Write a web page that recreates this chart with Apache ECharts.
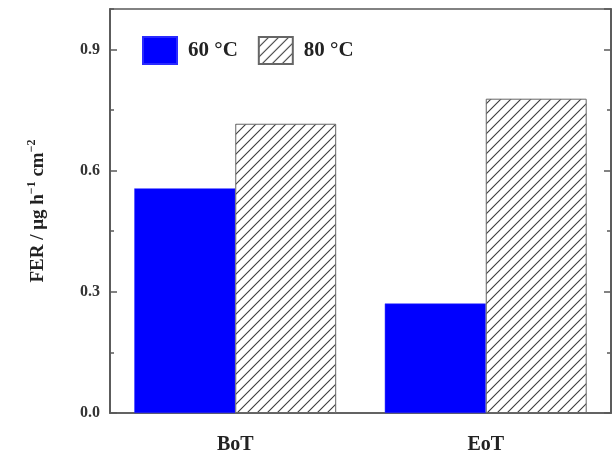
<!DOCTYPE html>
<html><head><meta charset="utf-8">
<script src="https://cdn.jsdelivr.net/npm/echarts@6/dist/echarts.min.js"></script>
<style>html,body{margin:0;padding:0;background:#fff}#c{width:612px;height:458px}</style>
</head><body><div id="c"></div>
<script>
var categories = ['BoT', 'EoT'];
var seriesNames = ['60 °C', '80 °C'];
var values60 = [0.556, 0.271];
var values80 = [0.716, 0.778];
var yMajorTicks = [0, 0.3, 0.6, 0.9];

var FONT = '"Liberation Serif", "DejaVu Serif", serif';
var AX = '#5a5a5a';

function hatch() {
  var s = 10, cv = document.createElement('canvas');
  cv.width = s; cv.height = s;
  var g = cv.getContext('2d');
  g.fillStyle = '#fff'; g.fillRect(0, 0, s, s);
  g.strokeStyle = '#3c3c3c'; g.lineWidth = 1.1;
  g.beginPath();
  g.moveTo(-1, s + 1); g.lineTo(s + 1, -1);
  g.moveTo(-1, 1); g.lineTo(1, -1);
  g.moveTo(s - 1, s + 1); g.lineTo(s + 1, s - 1);
  g.stroke();
  return cv;
}

var chart = echarts.init(document.getElementById('c'), null, {renderer: 'canvas'});
function yAx(pos, interval, len, labels, name) {
  var a = {
    type: 'value', position: pos, min: 0, max: 1.0, interval: interval,
    axisLine: {show: true, lineStyle: {color: AX, width: 1.5}},
    axisTick: {show: true, inside: true, length: len, lineStyle: {color: AX, width: 1.5}},
    splitLine: {show: false},
    axisLabel: {show: labels, showMaxLabel: false, margin: 10, fontFamily: FONT, fontWeight: 'bold', fontSize: 16, color: '#333',
      formatter: function (v) { return yMajorTicks.indexOf(Math.round(v * 10) / 10) >= 0 && v < 0.95 ? v.toFixed(1) : ''; }}
  };
  if (name) {
    a.name = '{n|FER / μg h}{s|−1}{n| cm}{s|−2}';
    a.nameLocation = 'middle';
    a.nameRotate = 90;
    a.nameGap = 62;
    a.nameTextStyle = {rich: {
      n: {fontFamily: FONT, fontWeight: 'bold', fontSize: 19, color: '#222', verticalAlign: 'bottom', lineHeight: 22},
      s: {fontFamily: FONT, fontWeight: 'bold', fontSize: 12, color: '#222', verticalAlign: 'top', lineHeight: 22, padding: [0, 0, 9, 0]}
    }};
  }
  return a;
}
chart.setOption({
  animation: false,
  backgroundColor: '#fff',
  grid: {left: 110, right: 1, top: 9, bottom: 45, show: true, borderColor: AX, borderWidth: 1.5, containLabel: false},
  legend: {
    data: seriesNames, left: 137, top: 31, itemWidth: 34, itemHeight: 27, itemGap: 20, icon: 'rect',
    textStyle: {fontFamily: FONT, fontWeight: 'bold', fontSize: 21, color: '#222', padding: [0, 0, 0, 6]}
  },
  xAxis: {
    type: 'category', data: categories,
    axisLine: {show: true, lineStyle: {color: AX, width: 1.5}},
    axisTick: {show: false},
    axisLabel: {margin: 22, fontFamily: FONT, fontWeight: 'bold', fontSize: 20, color: '#222'}
  },
  yAxis: [
    yAx('left', 0.3, 7, true, true),
    yAx('left', 0.15, 4, false, false),
    yAx('right', 0.3, 7, false, false),
    yAx('right', 0.15, 4, false, false)
  ],
  series: [
    {name: seriesNames[0], type: 'bar', data: values60, barGap: '0%', barCategoryGap: '19.4%',
     itemStyle: {color: '#0000ff', borderColor: '#2a2aff', borderWidth: 0.5}},
    {name: seriesNames[1], type: 'bar', data: values80, barGap: '0%', barCategoryGap: '19.4%',
     itemStyle: {color: {image: hatch(), repeat: 'repeat'}, borderColor: '#666', borderWidth: 1}}
  ]
});
</script></body></html>
